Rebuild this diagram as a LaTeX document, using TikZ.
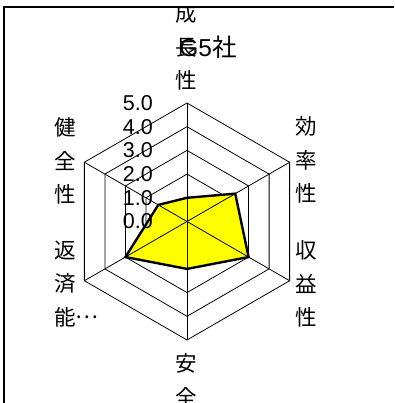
\documentclass[tikz,border=0pt]{standalone}
\usepackage{fontspec}
\setmainfont{Liberation Sans}
\newfontfamily\jp{Noto Sans CJK JP}
\usepackage{xcolor}
\usepackage{tikz}
\definecolor{bg}{HTML}{FFFFFF}
\definecolor{area}{HTML}{FFFF00}
\definecolor{gridc}{HTML}{000000}
\tikzset{
  frame/.style={draw=black, line width=1.2pt},
  grid/.style={draw=gridc, line width=0.8pt},
  series/.style={draw=black, fill=area, line width=2.4pt, line join=miter},
  tick/.style={font=\fontsize{21.5}{24}\selectfont, anchor=east, inner sep=0pt},
  cat/.style={font=\jp\fontsize{21.5}{33.5}\selectfont, align=center, inner sep=0pt},
  title/.style={font=\fontsize{24.5}{28}\selectfont, inner sep=0pt},
}
\newcommand{\middots}{\raisebox{0.32em}{…}}

\begin{document}
\begin{tikzpicture}[x=1pt,y=1pt]
  \useasboundingbox[fill=bg] (0,0) rectangle (394,403);
  \begin{scope}
    \clip (4,0) rectangle (394,396);
    \begin{scope}[shift={(187,181.5)}]
      \coordinate (c) at (0,0);
      % rings
      \foreach \r in {1,...,5}{
        \draw[grid] (90:23.7*\r) -- (30:23.7*\r) -- (-30:23.7*\r)
          -- (-90:23.7*\r) -- (-150:23.7*\r) -- (150:23.7*\r) -- cycle;
      }
      % data
      \draw[series] (90:23.7*1.0) -- (30:23.7*2.35) -- (-30:23.7*3.0)
        -- (-90:23.7*2.0) -- (-150:23.7*3.0) -- (150:23.7*1.4) -- cycle;
      % spokes
      \foreach \a/\n in {90/p1,30/p2,-30/p3,-90/p4,-150/p5,150/p6}{
        \coordinate (\n) at (\a:118.5);
        \draw[grid] (c) -- (\n);
      }
    \end{scope}

    \foreach \v in {0,...,5}{
      \node[tick] (t\v) at (153,{181.5+23.7*\v}) {\v.0};
    }

    \node[cat] (seicho) at (186,356) {成\\長\\性};
    \node[cat] (koritsu) at (306.5,243) {効\\率\\性};
    \node[cat] (shueki) at (306.5,119) {収\\益\\性};
    \node[cat] (anzen) at (186.5,6) {安\\全\\性};
    \node[cat] (kenzen) at (65,242) {健\\全\\性};
    \node[cat, align=left, anchor=west] (hensai) at (54,119) {返\\済\\能\middots};
    \node[title] (ttl) at (208,356) {G5{\jp 社}};
  \end{scope}
  \draw[frame] (4,0) -- (4,396) -- (394,396);
\end{tikzpicture}
\end{document}
